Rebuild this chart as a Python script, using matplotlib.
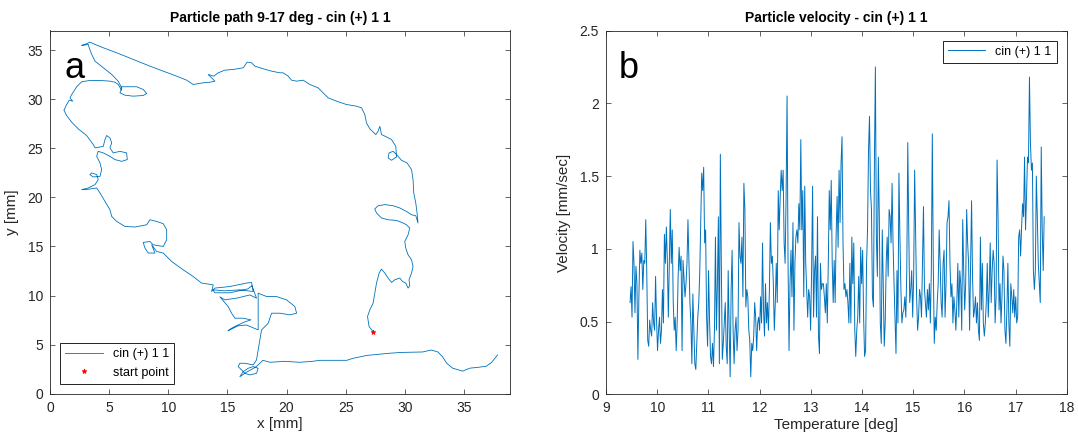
import numpy as np
import matplotlib.pyplot as plt
from matplotlib.ticker import FormatStrFormatter

# path of the particle (x [mm], y [mm]), in drawing order
right_side = [
    (27.32, 6.33), (26.98, 6.84), (26.85, 7.86), (27.04, 8.54), (27.32, 9.22), (27.46, 10.24),
    (27.61, 11.27), (27.83, 12.29), (28.03, 12.69), (28.31, 12.29), (28.59, 11.78), (28.88, 11.33),
    (29.15, 11.60), (29.58, 11.78), (29.81, 11.43), (30.08, 11.27), (30.28, 10.76), (30.42, 10.99),
    (30.36, 11.60), (30.57, 12.29), (30.70, 12.96), (30.57, 13.64), (30.28, 14.15), (30.08, 14.84),
    (30.00, 15.51), (30.28, 16.19), (30.42, 16.88), (30.14, 17.21), (29.86, 17.39), (29.30, 17.65),
    (28.59, 17.72), (28.03, 17.90), (27.61, 18.41), (27.46, 18.82), (27.74, 19.15), (28.31, 19.26),
    (29.01, 19.15), (29.58, 18.92), (30.14, 18.57), (30.57, 18.23), (30.93, 18.13), (31.12, 17.39),
    (31.04, 18.41), (30.93, 19.43), (30.76, 20.45), (30.70, 21.81), (30.57, 22.83), (30.19, 23.51),
    (29.72, 23.78), (29.30, 24.36), (29.01, 24.69), (28.67, 24.53), (28.59, 24.02), (28.88, 23.78),
    (29.30, 24.12), (29.24, 25.20), (28.88, 25.89), (28.45, 26.16), (28.03, 26.40), (27.89, 27.24),
    (27.74, 26.73), (27.55, 26.40), (27.04, 26.98), (26.76, 27.59), (26.62, 28.44), (26.34, 29.12),
    (25.92, 29.29),
]
top_edge = [
    (25.07, 29.46), (24.23, 29.80), (23.52, 30.14), (23.09, 30.65), (22.67, 31.16), (21.97, 31.50),
    (21.40, 31.94), (20.85, 31.84), (20.42, 31.94), (20.14, 32.35), (19.71, 32.69), (19.43, 32.69),
    (18.73, 32.86), (18.02, 33.10), (17.32, 33.37), (17.04, 33.71), (16.67, 33.78), (16.33, 33.20),
    (15.49, 33.03), (14.78, 32.96), (14.22, 32.69), (13.85, 32.35), (13.37, 32.52), (13.66, 32.18),
    (13.94, 31.84), (13.52, 31.73), (12.95, 31.67), (12.10, 31.50), (11.55, 31.94), (10.70, 32.35),
    (9.57, 32.86), (8.44, 33.37), (7.03, 34.05), (5.63, 34.73), (4.50, 35.24), (3.80, 35.58),
    (3.37, 35.82), (2.95, 35.58), (2.67, 35.48), (3.23, 35.58), (3.31, 35.24), (3.52, 34.56),
    (3.80, 33.88), (4.50, 33.20), (5.21, 32.52), (5.76, 31.84), (6.05, 31.16), (5.91, 30.65),
    (6.33, 30.41), (7.03, 30.31), (7.88, 30.38), (8.17, 30.58), (7.88, 30.99), (7.32, 31.27),
    (6.61, 31.27), (6.05, 31.27), (6.05, 30.92), (5.76, 31.50), (5.49, 31.73), (5.06, 31.84),
    (4.22, 31.91), (3.37, 31.91), (2.67, 31.78),
]
left_side = [
    (2.25, 31.27), (1.83, 30.48), (1.68, 30.14), (1.91, 29.80), (1.62, 29.90), (1.40, 29.46),
    (1.17, 28.88), (1.40, 28.34), (1.83, 27.65), (2.38, 26.98), (3.09, 26.30), (3.65, 25.38),
    (3.80, 25.04), (4.50, 25.20), (4.64, 25.89), (4.78, 26.30), (5.06, 26.06), (5.21, 25.55),
    (5.06, 25.04), (5.34, 24.53), (5.91, 24.69), (6.47, 24.53), (6.53, 23.85), (6.05, 23.67),
    (5.49, 23.85), (5.06, 24.18), (4.50, 24.53), (4.07, 24.69), (3.94, 24.18), (4.22, 23.51),
    (4.36, 22.83), (4.22, 22.14), (3.65, 22.08), (3.37, 22.32), (3.52, 22.49), (3.94, 22.32),
    (4.07, 21.81), (3.80, 21.30), (3.23, 20.96), (2.67, 20.79), (3.03, 20.79), (3.94, 20.96),
    (4.22, 20.45), (4.64, 19.59), (5.06, 18.74), (5.21, 18.06), (5.63, 17.55), (6.33, 17.04),
    (7.18, 16.98), (8.17, 17.21), (8.44, 17.72), (9.01, 17.55), (9.57, 17.32), (9.86, 16.70),
    (9.86, 15.68), (9.57, 15.00), (8.72, 15.17), (8.44, 15.51), (7.88, 15.41), (8.02, 14.84),
    (8.30, 14.33), (8.87, 14.33), (8.59, 15.17), (9.01, 14.49), (9.57, 14.33), (10.28, 13.47),
    (11.26, 12.62), (12.10, 11.94), (12.81, 11.27), (13.80, 11.09),
]
center_cluster = [
    (13.66, 10.41), (13.94, 10.76), (15.21, 10.92), (16.62, 11.27), (17.04, 11.33), (17.18, 10.41),
    (16.05, 10.58), (14.78, 10.48), (13.77, 10.58), (13.94, 10.28), (15.21, 10.28), (16.73, 10.68),
    (17.07, 11.00), (17.46, 9.73), (16.90, 10.06), (15.88, 9.76), (14.78, 9.56), (14.36, 9.87),
    (15.06, 8.88), (15.35, 8.20), (15.63, 7.69), (16.33, 7.69), (16.99, 7.52), (16.47, 7.32),
    (15.91, 7.01), (15.35, 6.67), (15.04, 6.40), (15.88, 6.91), (16.60, 7.00), (17.60, 6.50),
    (17.60, 8.50), (17.60, 10.24), (18.31, 9.90), (19.15, 9.90), (20.00, 9.56), (20.70, 8.88),
    (20.85, 8.20), (20.28, 8.03), (19.43, 8.20), (18.73, 8.20), (18.59, 7.69), (18.45, 7.18),
    (17.89, 6.50), (17.74, 5.48), (17.60, 4.46), (17.46, 3.44), (17.18, 2.93), (16.47, 3.10),
    (16.05, 3.10), (15.91, 2.76), (16.20, 2.42), (16.47, 2.08), (16.90, 1.91), (17.46, 2.08),
    (17.60, 2.59), (17.18, 2.76), (16.75, 2.59), (16.33, 2.24), (16.05, 1.73), (16.64, 2.21),
    (17.40, 2.72),
]
bottom_edge = [
    (18.00, 3.40), (18.60, 3.20), (19.85, 3.30), (21.10, 3.20), (22.20, 3.30), (22.80, 3.40),
    (24.10, 3.40), (25.10, 3.40), (25.60, 3.60), (26.80, 3.90), (28.50, 4.10), (29.60, 4.20),
    (31.50, 4.25), (32.25, 4.45), (32.80, 4.25), (33.20, 3.75), (33.55, 3.10), (34.05, 2.60),
    (34.90, 2.30), (35.50, 2.60), (36.30, 2.70), (36.90, 2.80), (37.35, 3.20), (37.85, 3.95),
]
start_point = (27.32, 6.33)

# velocity readings (mm/sec), evenly sampled in temperature
temp_start = 9.47
temp_end = 17.56
velocity_low = [
    0.63, 0.74, 0.53, 1.05, 0.9, 0.56, 0.88, 0.76, 0.24, 0.67,
    0.99, 0.9, 0.97, 0.72, 0.92, 0.9, 1.2, 0.85, 0.37, 0.33,
    0.51, 0.44, 0.4, 0.63, 0.49, 0.44, 0.81, 0.51, 0.3, 0.44,
    0.53, 0.35, 0.44, 0.72, 0.49, 1.1, 0.9, 1.15, 0.92, 0.53,
    0.9, 1.27, 0.9, 1.13, 0.63, 0.44, 0.53, 0.3, 0.49, 0.81,
    1.01, 0.85, 0.95, 0.3, 0.92, 0.79, 0.67, 0.76, 0.9, 1.2,
    0.9, 0.63, 0.49, 0.21, 0.69, 0.44, 0.21, 0.17, 0.35, 0.53,
    0.63, 0.83, 1.18, 1.52, 1.4, 1.56, 1.04, 1.13, 0.53, 0.33,
    0.85, 0.51, 0.26, 0.21, 0.35, 0.19, 0.44, 1.08, 0.44, 0.76,
    1.22, 0.21, 1.65, 0.9, 0.24, 0.35, 0.49, 0.63, 0.33, 0.21,
    0.85, 0.44, 0.12, 0.72, 0.99, 0.44, 0.21, 0.44, 0.53, 0.3,
    0.44, 1.18, 0.95, 0.9, 1.08, 0.67, 1.45, 1.27, 0.6, 0.72,
    0.67, 0.44, 0.37, 0.12, 0.35, 0.3, 0.4, 0.63, 0.53, 0.3,
    0.49, 0.53, 0.44, 0.67, 0.49, 1.04, 0.58, 0.4, 0.76, 0.49,
    0.63, 0.44, 0.72, 1.18, 0.9, 0.95, 0.76, 0.44, 0.63, 0.9,
    0.63, 1.4, 1.13, 1.36, 1.54, 1.4, 1.54, 1.04, 0.9, 1.36,
    2.05, 0.9, 0.3, 0.76, 0.99, 0.67, 1.18, 0.44, 0.9, 1.08,
    1.13, 1.04, 1.31, 1.13, 1.75, 1.13, 1.4, 0.67, 1.43, 0.9,
    0.72, 0.53, 0.72, 0.67, 0.44, 0.85, 1.43, 0.53, 0.85, 0.95,
    0.53, 1.22, 0.4, 0.28, 0.9, 0.72, 0.76, 0.76, 0.67,
]
velocity_high = [
    0.56, 0.76, 0.49, 0.9, 1.4, 1.13, 1.47, 0.9, 0.63, 0.92,
    0.63, 1.1, 1.36, 1.01, 1.54, 1.18, 1.59, 1.77, 1.04, 0.72,
    0.76, 0.67, 0.72, 0.63, 0.49, 0.9, 0.49, 1.08, 0.76, 1.04,
    0.44, 0.26, 0.44, 0.53, 0.81, 0.49, 1.01, 0.76, 0.99, 0.53,
    0.26, 0.3, 0.9, 1.13, 1.68, 1.91, 1.4, 1.27, 0.67, 0.6,
    1.59, 2.25, 1.08, 0.81, 1.63, 1.22, 0.49, 0.35, 1.13, 0.76,
    0.33, 0.49, 0.9, 1.08, 0.81, 1.27, 1.22, 1.04, 1.45, 1.04,
    0.76, 0.53, 0.28, 0.85, 0.49, 1.52, 1.08, 0.72, 0.49, 0.56,
    0.58, 0.67, 0.53, 0.85, 1.73, 1.13, 0.63, 0.72, 0.85, 0.53,
    0.81, 1.54, 1.08, 0.67, 0.44, 0.53, 0.72, 0.67, 0.53, 0.9,
    1.29, 0.72, 0.63, 0.53, 0.72, 0.58, 0.76, 0.49, 0.85, 1.79,
    0.9, 0.35, 0.53, 0.44, 0.63, 0.76, 1.13, 0.9, 0.63, 0.53,
    0.9, 0.99, 0.53, 0.76, 1.18, 1.22, 1.33, 0.9, 0.67, 0.76,
    0.49, 0.67, 0.58, 0.44, 0.63, 0.9, 0.53, 0.85, 0.76, 0.44,
    1.2, 0.85, 0.58, 0.76, 1.27, 1.04, 0.9, 0.44, 0.9, 1.33,
    0.81, 0.53, 0.58, 0.67, 0.49, 0.63, 0.44, 0.37, 1.08, 0.58,
    0.9, 0.49, 0.4, 0.49, 0.63, 0.9, 0.53, 0.72, 1.04, 0.63,
    0.85, 0.99, 0.9, 0.49, 0.67, 1.61, 1.22, 0.58, 0.76, 0.49,
    0.67, 0.95, 0.85, 0.44, 0.35, 0.58, 0.9, 0.49, 0.33, 0.76,
    0.67, 0.56, 0.72, 0.53, 0.67, 0.49, 0.53, 1.08, 1.13, 0.95,
    1.15, 1.31, 1.22, 1.63, 1.13, 1.36, 1.63, 1.59, 2.18, 1.73,
    1.54, 1.59, 0.85, 0.72, 0.85, 1.5, 1.22, 0.9, 0.76, 0.63,
    1.7, 1.13, 0.85, 1.22,
]

LINE_COLOR = '#0072BD'
TEXT_COLOR = '#262626'


def style_axes(ax):
    ax.tick_params(direction='in', top=True, right=True, length=3.5, width=0.5,
                   labelsize=10, colors=TEXT_COLOR, pad=5)
    for s in ax.spines.values():
        s.set_linewidth(0.6)
        s.set_color(TEXT_COLOR)


def main():
    plt.rcParams['font.family'] = ['Liberation Sans', 'DejaVu Sans']

    W, H = 1078, 443
    fig = plt.figure(figsize=(W / 100, H / 100), dpi=100)

    # axes boxes in pixels: left, right, top, bottom
    ax1 = fig.add_axes([50.1 / W, 1 - 393.7 / H, (510 - 50.1) / W, (393.7 - 30.5) / H])
    ax2 = fig.add_axes([606 / W, 1 - 394.3 / H, (1066.7 - 606) / W, (394.3 - 30.5) / H])

    # --- particle path ---
    path = right_side + top_edge + left_side + center_cluster + bottom_edge
    px = [p[0] for p in path]
    py = [p[1] for p in path]
    ax1.plot(px, py, color=LINE_COLOR, lw=0.6, label='cin (+) 1 1')
    ax1.plot(start_point[0], start_point[1], '*', color='red', ms=3.5, mew=0.6,
             label='start point')
    ax1.set_xlim(0, 38.9)
    ax1.set_ylim(0, 37)
    ax1.set_xticks(np.arange(0, 36, 5))
    ax1.set_yticks(np.arange(0, 36, 5))
    ax1.set_xlabel('x [mm]', fontsize=11, color=TEXT_COLOR, labelpad=2)
    ax1.set_ylabel('y [mm]', fontsize=11, color=TEXT_COLOR, labelpad=6)
    ax1.set_title('Particle path 9-17 deg - cin (+) 1 1', fontsize=10, fontweight='bold',
                  color='black', pad=6)
    style_axes(ax1)
    leg1 = ax1.legend(loc='lower left', fontsize=9, fancybox=False, edgecolor='black',
                      framealpha=1, borderaxespad=0.8, handlelength=3.0)
    leg1.get_frame().set_linewidth(0.6)

    # --- velocity ---
    velocity = velocity_low + velocity_high
    temperature = np.linspace(temp_start, temp_end, len(velocity))
    ax2.plot(temperature, velocity, color=LINE_COLOR, lw=0.7, label='cin (+) 1 1')
    ax2.set_xlim(9, 18)
    ax2.set_ylim(0, 2.5)
    ax2.set_xticks(np.arange(9, 19, 1))
    ax2.set_yticks(np.arange(0, 2.6, 0.5))
    ax2.yaxis.set_major_formatter(FormatStrFormatter('%g'))
    ax2.set_xlabel('Temperature [deg]', fontsize=11, color=TEXT_COLOR, labelpad=2)
    ax2.set_ylabel('Velocity [mm/sec]', fontsize=11, color=TEXT_COLOR, labelpad=6)
    ax2.set_title('Particle velocity - cin (+) 1 1', fontsize=10, fontweight='bold',
                  color='black', pad=6)
    style_axes(ax2)
    leg2 = ax2.legend(loc='upper right', fontsize=9, fancybox=False, edgecolor='black',
                      framealpha=1, borderaxespad=0.8, handlelength=3.0)
    leg2.get_frame().set_linewidth(0.6)

    # panel letters
    fig.text(65 / W, 1 - 78.3 / H, 'a', fontsize=26, va='baseline', color='black')
    fig.text(619 / W, 1 - 78.3 / H, 'b', fontsize=26, va='baseline', color='black')

    fig.savefig('out.png', dpi=100)


if __name__ == "__main__":
    main()
